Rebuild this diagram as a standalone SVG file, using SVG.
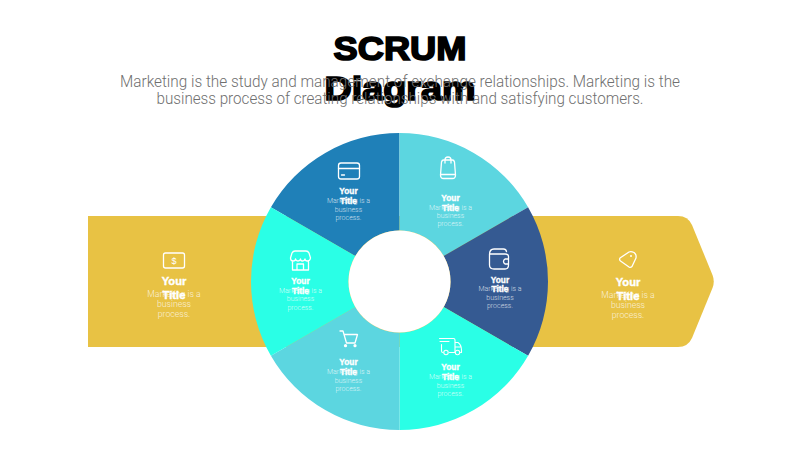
<svg xmlns="http://www.w3.org/2000/svg" width="800" height="450" viewBox="0 0 800 450">
<style>
text{font-family:"Liberation Sans",Arial,sans-serif;text-anchor:middle}
.h{font-size:34px;font-weight:700;fill:#000;stroke:#000;stroke-width:1.700px}
.sub{font-family:Roboto,"Liberation Sans",sans-serif;font-weight:300;font-size:16px;fill:#6f6f6f}
.t{font-size:8.300px;font-weight:700;fill:#fff;stroke:#fff;stroke-width:.35px}
.b,.B{font-family:Roboto,"Liberation Sans",sans-serif;font-weight:300;fill:#fff;fill-opacity:.78}
.b{font-size:7px}
.B{font-size:8.700px}
.T{font-size:11.200px;font-weight:700;fill:#fff;stroke:#fff;stroke-width:.4px}
.i{fill:none;stroke:#fff;stroke-width:1.300px;stroke-linecap:round;stroke-linejoin:round}
</style>
<rect width="800" height="450" fill="#fff"/>
<g id="heading">
<text class="h" x="400" y="59.500" textLength="133" lengthAdjust="spacingAndGlyphs">SCRUM</text>
<text class="h" x="400" y="99.500" textLength="151" lengthAdjust="spacingAndGlyphs">Diagram</text>
<text class="sub" x="400" y="86.500" textLength="560" lengthAdjust="spacingAndGlyphs">Marketing is the study and management of exchange relationships. Marketing is the</text>
<text class="sub" x="400" y="104" textLength="487" lengthAdjust="spacingAndGlyphs">business process of creating relationships with and satisfying customers.</text>
</g>
<g id="arrow">
<path d="M88 216H678Q688 216 692 225L712.500 275Q715 281.500 712.500 288L692 338Q688 347 678 347H88Z" fill="#e8c244"/>
</g>
<g id="node-blue">
<path d="M399.500 133V230.500A51 51 0 0 0 355.300 256L270.900 207.250A148.500 148.500 0 0 1 399.500 133Z" fill="#1f80b8"/>
<g class="i"><rect x="338.500" y="163" width="21" height="16" rx="2.500"/><path d="M338.500 168.500H359.500M341.500 175H344.500"/></g>
<text class="b" x="348.500" y="203">Marketing is a</text><text class="b" x="348.500" y="211.500">business</text><text class="b" x="348.500" y="220">process.</text>
<text class="t" x="348.500" y="194">Your</text><text class="t" x="348.500" y="204">Title</text>
</g>
<g id="node-bag">
<path d="M399.500 133V230.500A51 51 0 0 1 443.700 256L528.100 207.250A148.500 148.500 0 0 0 399.500 133Z" fill="#5cd6e0"/>
<g class="i"><path d="M443.500 160H452.500Q454 160 454.500 162L455.500 175Q455.500 178.500 452.500 178.500H443.500Q440.500 178.500 440.500 175L441.500 162Q442 160 443.500 160ZM445 163V160Q445 157 448 157Q451 157 451 160V163M441 174.500H455"/></g>
<text class="b" x="450.500" y="210">Marketing is a</text><text class="b" x="450.500" y="218">business</text><text class="b" x="450.500" y="226">process.</text>
<text class="t" x="450.500" y="200.500">Your</text><text class="t" x="450.500" y="211">Title</text>
</g>
<g id="node-wallet">
<path d="M443.700 256L528.100 207.250A148.500 148.500 0 0 1 528.100 355.750L443.700 307A51 51 0 0 0 443.700 256Z" fill="#355a92"/>
<g class="i"><path d="M489.500 254.500Q489.500 249 494 249H503.500Q506 249 506.500 251.500M489.500 254.500V265Q489.500 269 494 269H505Q508.500 269 508.500 265V256.500Q508.500 254 505 254H490M508.500 259H505Q503.500 260 503.500 261.500Q503.500 263 505 264H508.500"/></g>
<text class="b" x="500" y="291">Marketing is a</text><text class="b" x="500" y="299.500">business</text><text class="b" x="500" y="307.500">process.</text>
<text class="t" x="500" y="283">Your</text><text class="t" x="500" y="292">Title</text>
</g>
<g id="node-truck">
<path d="M399.500 430V332.500A51 51 0 0 0 443.700 307L528.100 355.750A148.500 148.500 0 0 1 399.500 430Z" fill="#2affe6"/>
<g class="i" style="stroke-width:1.100px"><path d="M439.500 338.500H453.500Q455 338.500 455 340V352M440 341.500H449M441.500 344.500V351Q441.500 352.500 443 352.500M449.500 352.500H454.500M455 342.500H458Q461.500 345 461.500 350V352.500H460.500M455 347H461"/><circle cx="446" cy="352.500" r="2.200"/><circle cx="457.500" cy="352.500" r="2.200"/></g>
<text class="b" x="450.500" y="378.500">Marketing is a</text><text class="b" x="450.500" y="387.500">business</text><text class="b" x="450.500" y="395.500">process.</text>
<text class="t" x="450.500" y="370">Your</text><text class="t" x="450.500" y="380">Title</text>
</g>
<g id="node-cart">
<path d="M399.500 430V332.500A51 51 0 0 1 355.300 307L270.900 355.750A148.500 148.500 0 0 0 399.500 430Z" fill="#5cd6e0"/>
<g class="i"><path d="M340 331H343L346.500 343H355L357.500 334.500H344"/></g>
<circle cx="345.500" cy="345.700" r="1.600" fill="#fff"/><circle cx="355" cy="345.700" r="1.600" fill="#fff"/>
<text class="b" x="348.500" y="374">Marketing is a</text><text class="b" x="348.500" y="382.500">business</text><text class="b" x="348.500" y="390.500">process.</text>
<text class="t" x="348.500" y="365">Your</text><text class="t" x="348.500" y="375">Title</text>
</g>
<g id="node-store">
<path d="M355.300 256L270.900 207.250A148.500 148.500 0 0 0 270.900 355.750L355.300 307A51 51 0 0 1 355.300 256Z" fill="#2affe6"/>
<g class="i"><path d="M295 251H306Q308 251 309 253L310.500 258Q310 261 307.500 261Q305 261 305 259Q304.500 261 302.500 261Q300.500 261 300.500 259Q300 261 298 261Q296 261 295.500 259Q295.500 261 293 261Q290.500 261 290.500 258L292 253Q293 251 295 251ZM292.500 261V270H308.500V261M297 270V264H303.500V270"/></g>
<text class="b" x="300.500" y="292.500">Marketing is a</text><text class="b" x="300.500" y="301">business</text><text class="b" x="300.500" y="309.500">process.</text>
<text class="t" x="300.500" y="284">Your</text><text class="t" x="300.500" y="294">Title</text>
</g>
<circle id="hub" cx="399.500" cy="281.500" r="51" fill="#fff"/>
<g id="node-left">
<g class="i"><rect x="163.500" y="253" width="21" height="15" rx="2"/></g>
<text x="174" y="264" style="font-size:9px;font-weight:400;fill:#fff">$</text>
<text class="B" x="174" y="296.500">Marketing is a</text><text class="B" x="174" y="306.500">business</text><text class="B" x="174" y="316.500">process.</text>
<text class="T" x="174" y="284.500">Your</text><text class="T" x="174" y="298.500">Title</text>
</g>
<g id="node-right">
<g class="i"><path d="M620 258L629 252Q631 251 634 252.500L635 253.500Q636.500 255 636 258L632 266.500Q630.500 268 629 267L620.500 261Q619 259.500 620 258Z"/></g>
<circle cx="631" cy="256" r="1" fill="#fff"/>
<text class="B" x="628" y="297.500">Marketing is a</text><text class="B" x="628" y="307.500">business</text><text class="B" x="628" y="317.500">process.</text>
<text class="T" x="628" y="285.500">Your</text><text class="T" x="628" y="299.500">Title</text>
</g>
</svg>
